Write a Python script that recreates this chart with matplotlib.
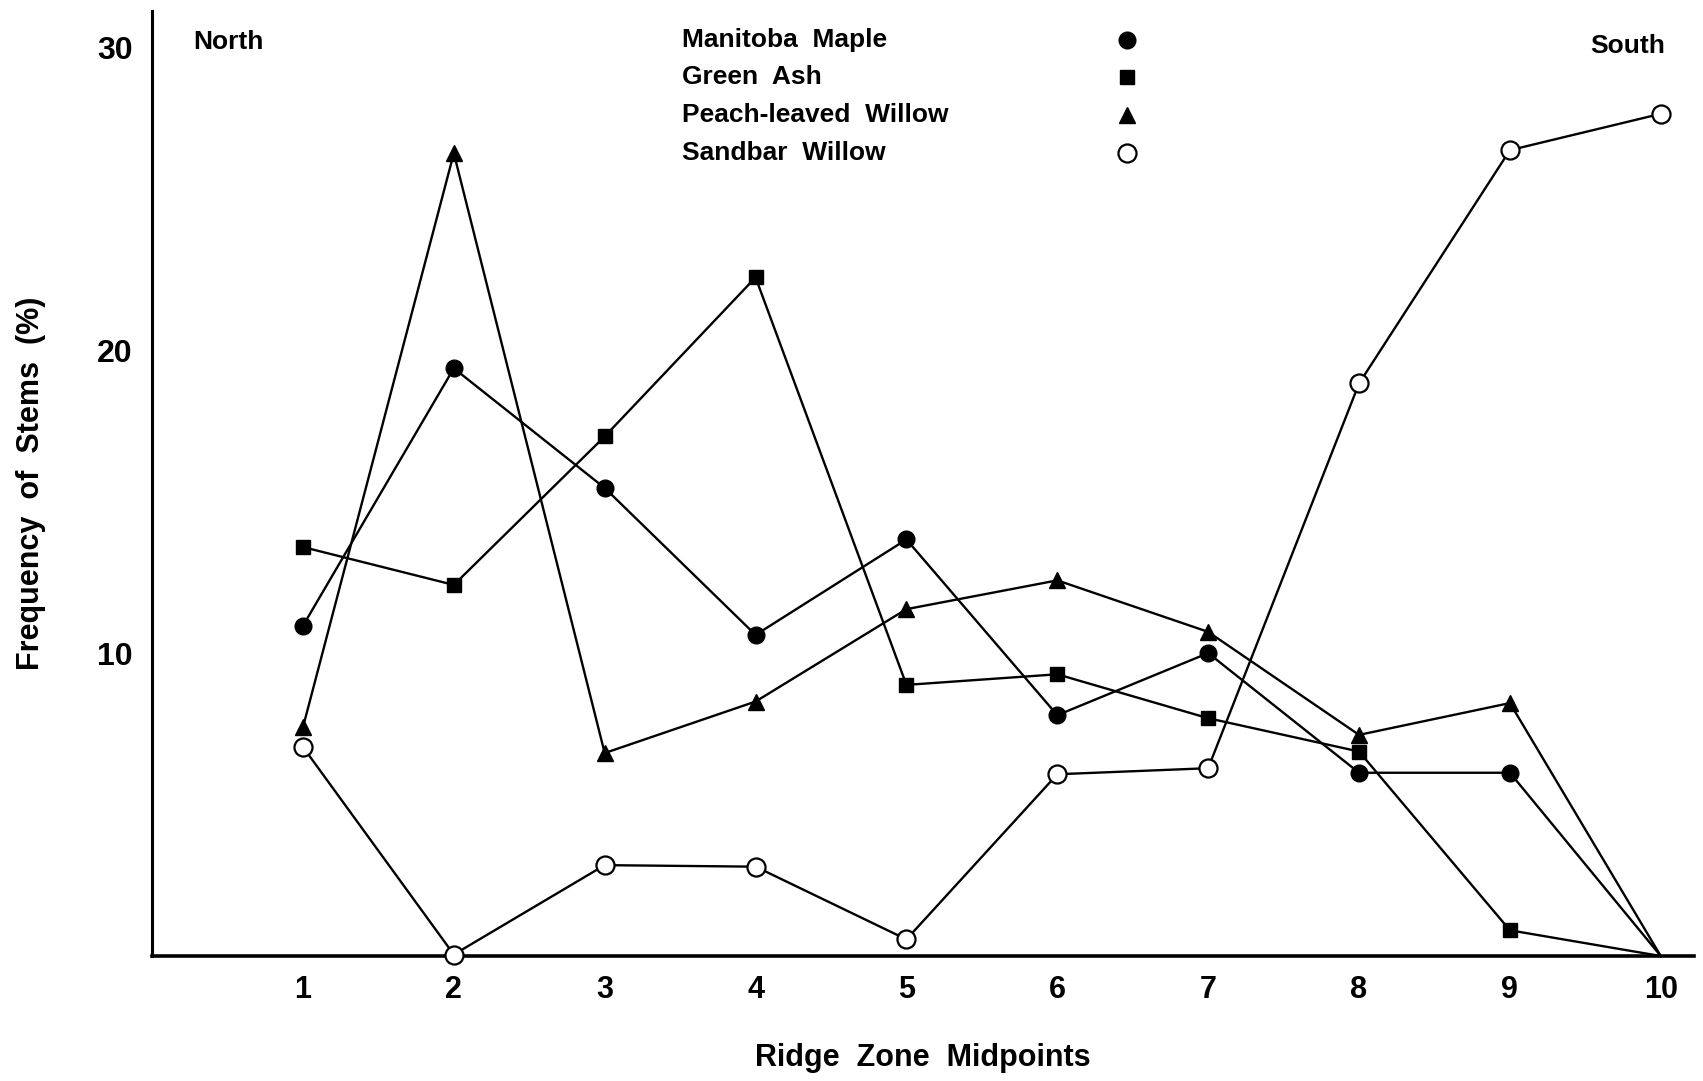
import numpy as np
from matplotlib import pyplot as plt

# ridge zone midpoints and stem frequencies (%)
zones = [1, 2, 3, 4, 5, 6, 7, 8, 9, 10]
manitoba_maple = [10.9, 19.4, 15.45, 10.6, 13.75, 7.95, 10.0, 6.05, 6.05, 0.0]
green_ash = [13.5, 12.25, 17.15, 22.4, 8.95, 9.3, 7.85, 6.75, 0.85, 0.0]
peach_willow = [7.55, 26.5, 6.7, 8.4, 11.45, 12.4, 10.7, 7.3, 8.35, 0.0]
sandbar_willow = [6.9, 0.05, 3.0, 2.95, 0.55, 6.0, 6.2, 18.9, 26.6, 27.8]

series_names = ["Manitoba  Maple", "Green  Ash", "Peach-leaved  Willow", "Sandbar  Willow"]
y_ticks = [10, 20, 30]

plt.rcParams['font.family'] = ['Liberation Sans', 'DejaVu Sans']

fig = plt.figure(figsize=(17.03, 10.81), dpi=100)
ax = fig.add_axes([0.0893, 0.1156, 0.9054, 0.8744])

styles = [
    dict(marker='o', ms=12, mfc='black', mec='black'),
    dict(marker='s', ms=10.5, mfc='black', mec='black'),
    dict(marker='^', ms=11.5, mfc='black', mec='black'),
    dict(marker='o', ms=13, mfc='white', mec='black', mew=1.6),
]
data = [manitoba_maple, green_ash, peach_willow, sandbar_willow]
# the three series that drop to zero at zone 10 have no marker there
mark_idx = [list(range(9)), list(range(9)), list(range(9)), list(range(10))]

for vals, st, mi in zip(data, styles, mark_idx):
    ax.plot(zones, vals, color='black', lw=1.7, clip_on=False, zorder=3,
            markevery=mi, **st)

ax.set_xlim(0, 10.22)
ax.set_ylim(0, 31.2)
ax.set_xticks(zones)
ax.set_yticks(y_ticks)
ax.tick_params(length=0, pad=14)
for lab in ax.get_xticklabels():
    lab.set_fontsize(22)
    lab.set_fontweight('bold')
for lab in ax.get_yticklabels():
    lab.set_fontsize(23)
    lab.set_fontweight('heavy')

for s in ['top', 'right']:
    ax.spines[s].set_visible(False)
ax.spines['left'].set_linewidth(2.2)
ax.spines['bottom'].set_linewidth(2.6)

ax.set_xlabel("Ridge  Zone  Midpoints", fontsize=22, fontweight='bold', labelpad=27)
ax.set_ylabel("Frequency  of  Stems  (%)", fontsize=22, fontweight='bold', labelpad=37)

ax.text(0.027, 0.967, "North", transform=ax.transAxes, fontsize=19, fontweight='bold',
        ha='left', va='center')
ax.text(0.9815, 0.963, "South", transform=ax.transAxes, fontsize=19, fontweight='bold',
        ha='right', va='center')

# legend drawn as text column plus marker column
leg_x_text = (682 - 152) / (1694 - 152)
leg_x_mark = (1127 - 152) / (1694 - 152)
leg_rows = [40, 77, 115, 153]
for name, st, yr in zip(series_names, styles, leg_rows):
    ya = (956 - yr) / (956 - 11)
    ax.text(leg_x_text, ya, name, transform=ax.transAxes, fontsize=19,
            fontweight='bold', ha='left', va='center')
    ax.plot([leg_x_mark], [ya], transform=ax.transAxes, linestyle='none',
            clip_on=False, **st)

plt.savefig("out.png", dpi=100)
